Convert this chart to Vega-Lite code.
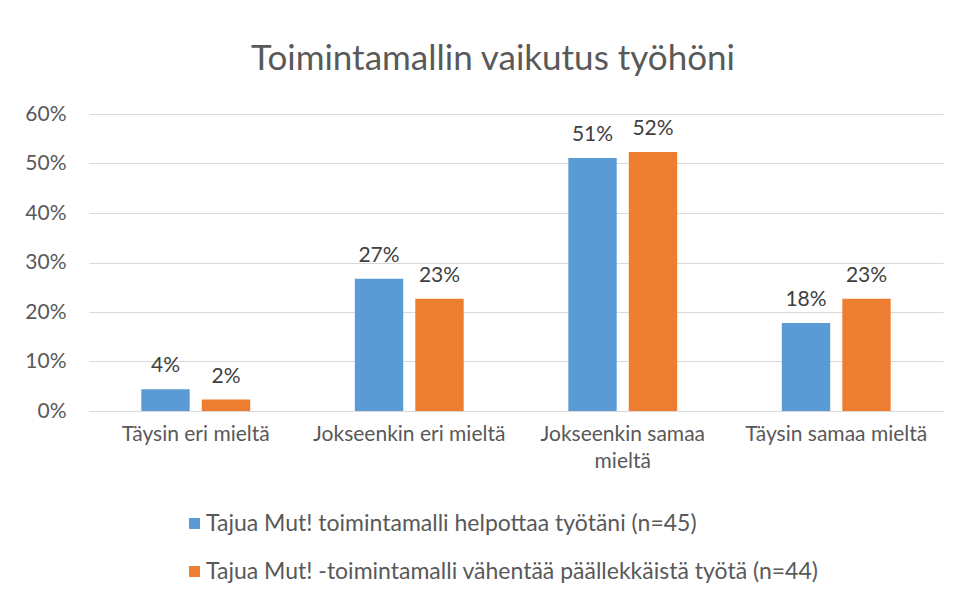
{
  "$schema": "https://vega.github.io/schema/vega-lite/v6.json",
  "width": 854,
  "height": 297,
  "autosize": "none",
  "padding": {"left": 89, "top": 114, "right": 17, "bottom": 186},
  "background": "white",
  "title": {
    "text": "Toimintamallin vaikutus työhöni",
    "font": "Lato",
    "fontSize": 35,
    "fontWeight": "normal",
    "color": "#595959",
    "anchor": "middle",
    "dx": -23,
    "offset": 26
  },
  "data": {
    "values": [
      {"kategoria": "Täysin eri mieltä", "sarja": "Tajua Mut! toimintamalli helpottaa työtäni (n=45)", "osuus": 0.044},
      {"kategoria": "Täysin eri mieltä", "sarja": "Tajua Mut! -toimintamalli vähentää päällekkäistä työtä (n=44)", "osuus": 0.023},
      {"kategoria": "Jokseenkin eri mieltä", "sarja": "Tajua Mut! toimintamalli helpottaa työtäni (n=45)", "osuus": 0.267},
      {"kategoria": "Jokseenkin eri mieltä", "sarja": "Tajua Mut! -toimintamalli vähentää päällekkäistä työtä (n=44)", "osuus": 0.227},
      {"kategoria": "Jokseenkin samaa mieltä", "sarja": "Tajua Mut! toimintamalli helpottaa työtäni (n=45)", "osuus": 0.511},
      {"kategoria": "Jokseenkin samaa mieltä", "sarja": "Tajua Mut! -toimintamalli vähentää päällekkäistä työtä (n=44)", "osuus": 0.523},
      {"kategoria": "Täysin samaa mieltä", "sarja": "Tajua Mut! toimintamalli helpottaa työtäni (n=45)", "osuus": 0.178},
      {"kategoria": "Täysin samaa mieltä", "sarja": "Tajua Mut! -toimintamalli vähentää päällekkäistä työtä (n=44)", "osuus": 0.227}
    ]
  },
  "encoding": {
    "x": {
      "field": "kategoria",
      "type": "nominal",
      "sort": ["Täysin eri mieltä", "Jokseenkin eri mieltä", "Jokseenkin samaa mieltä", "Täysin samaa mieltä"],
      "scale": {"paddingInner": 0.49, "paddingOuter": 0.245},
      "axis": {
        "title": null,
        "labelAngle": 0,
        "labelFont": "Lato",
        "labelFontSize": 21,
        "labelColor": "#595959",
        "labelPadding": 12,
        "labelLineHeight": 27,
        "labelLimit": 300,
        "ticks": false,
        "domainColor": "#D9D9D9",
        "domainWidth": 1,
        "labelExpr": "datum.label == 'Jokseenkin samaa mieltä' ? ['Jokseenkin samaa', 'mieltä'] : datum.label"
      }
    },
    "xOffset": {
      "field": "sarja",
      "type": "nominal",
      "sort": ["Tajua Mut! toimintamalli helpottaa työtäni (n=45)", "Tajua Mut! -toimintamalli vähentää päällekkäistä työtä (n=44)"],
      "scale": {"paddingInner": 0.2, "paddingOuter": 0}
    },
    "y": {
      "field": "osuus",
      "type": "quantitative",
      "scale": {"domain": [0, 0.6], "nice": false},
      "axis": {
        "title": null,
        "format": ".0%",
        "values": [0, 0.1, 0.2, 0.3, 0.4, 0.5, 0.6],
        "labelFont": "Lato",
        "labelFontSize": 21,
        "labelColor": "#595959",
        "labelPadding": 23,
        "ticks": false,
        "domain": false,
        "gridColor": "#D9D9D9",
        "gridWidth": 1
      }
    }
  },
  "layer": [
    {
      "mark": {"type": "bar"},
      "encoding": {
        "color": {
          "field": "sarja",
          "type": "nominal",
          "sort": ["Tajua Mut! toimintamalli helpottaa työtäni (n=45)", "Tajua Mut! -toimintamalli vähentää päällekkäistä työtä (n=44)"],
          "scale": {"range": ["#5B9BD5", "#ED7D31"]},
          "legend": {
            "title": null,
            "orient": "none",
            "legendX": 94,
            "legendY": 398,
            "direction": "vertical",
            "symbolType": "square",
            "symbolSize": 120,
            "symbolStrokeWidth": 0,
            "symbolOpacity": 1,
            "labelFont": "Lato",
            "labelFontSize": 23,
            "labelColor": "#595959",
            "labelLimit": 800,
            "labelOffset": 0,
            "rowPadding": 24
          }
        }
      }
    },
    {
      "mark": {"type": "text", "baseline": "alphabetic", "dy": -17, "font": "Lato", "fontSize": 21, "color": "#404040"},
      "encoding": {
        "text": {"field": "osuus", "type": "quantitative", "format": ".0%"}
      }
    }
  ],
  "config": {"view": {"stroke": null}}
}
